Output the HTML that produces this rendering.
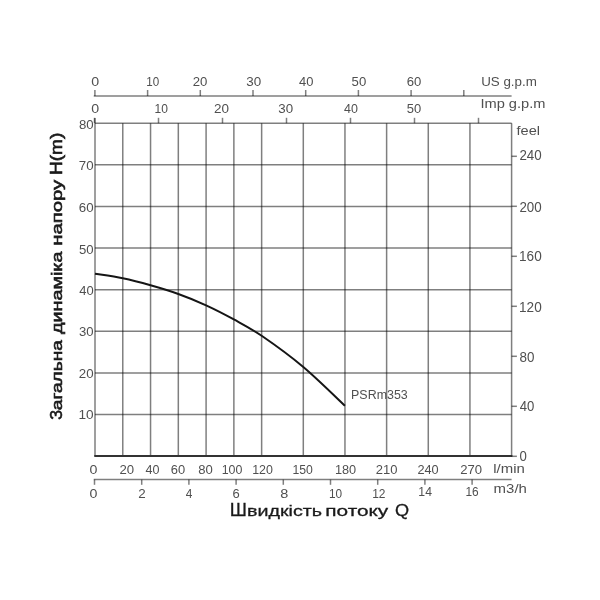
<!DOCTYPE html>
<html><head><meta charset="utf-8"><style>
html,body{margin:0;padding:0;background:#fff;width:600px;height:600px;overflow:hidden}
svg{display:block;will-change:transform}
text{font-family:"Liberation Sans",sans-serif}
</style></head><body>
<svg width="600" height="600" viewBox="0 0 600 600">
<rect width="600" height="600" fill="#fff"/>
<line x1="95.00" y1="123.20" x2="95.00" y2="456.10" stroke="#000" stroke-opacity="0.5" stroke-width="1.5"/>
<line x1="122.77" y1="123.20" x2="122.77" y2="456.10" stroke="#000" stroke-opacity="0.5" stroke-width="1.5"/>
<line x1="150.55" y1="123.20" x2="150.55" y2="456.10" stroke="#000" stroke-opacity="0.5" stroke-width="1.5"/>
<line x1="178.32" y1="123.20" x2="178.32" y2="456.10" stroke="#000" stroke-opacity="0.5" stroke-width="1.5"/>
<line x1="206.09" y1="123.20" x2="206.09" y2="456.10" stroke="#000" stroke-opacity="0.5" stroke-width="1.5"/>
<line x1="233.87" y1="123.20" x2="233.87" y2="456.10" stroke="#000" stroke-opacity="0.5" stroke-width="1.5"/>
<line x1="261.64" y1="123.20" x2="261.64" y2="456.10" stroke="#000" stroke-opacity="0.5" stroke-width="1.5"/>
<line x1="303.30" y1="123.20" x2="303.30" y2="456.10" stroke="#000" stroke-opacity="0.5" stroke-width="1.5"/>
<line x1="344.96" y1="123.20" x2="344.96" y2="456.10" stroke="#000" stroke-opacity="0.5" stroke-width="1.5"/>
<line x1="386.62" y1="123.20" x2="386.62" y2="456.10" stroke="#000" stroke-opacity="0.5" stroke-width="1.5"/>
<line x1="428.28" y1="123.20" x2="428.28" y2="456.10" stroke="#000" stroke-opacity="0.5" stroke-width="1.5"/>
<line x1="469.94" y1="123.20" x2="469.94" y2="456.10" stroke="#000" stroke-opacity="0.5" stroke-width="1.5"/>
<line x1="511.60" y1="123.20" x2="511.60" y2="456.10" stroke="#000" stroke-opacity="0.5" stroke-width="1.5"/>
<line x1="95.00" y1="414.49" x2="511.60" y2="414.49" stroke="#000" stroke-opacity="0.5" stroke-width="1.5"/>
<line x1="95.00" y1="372.88" x2="511.60" y2="372.88" stroke="#000" stroke-opacity="0.5" stroke-width="1.5"/>
<line x1="95.00" y1="331.26" x2="511.60" y2="331.26" stroke="#000" stroke-opacity="0.5" stroke-width="1.5"/>
<line x1="95.00" y1="289.65" x2="511.60" y2="289.65" stroke="#000" stroke-opacity="0.5" stroke-width="1.5"/>
<line x1="95.00" y1="248.04" x2="511.60" y2="248.04" stroke="#000" stroke-opacity="0.5" stroke-width="1.5"/>
<line x1="95.00" y1="206.42" x2="511.60" y2="206.42" stroke="#000" stroke-opacity="0.5" stroke-width="1.5"/>
<line x1="95.00" y1="164.81" x2="511.60" y2="164.81" stroke="#000" stroke-opacity="0.5" stroke-width="1.5"/>
<line x1="95.00" y1="123.20" x2="511.60" y2="123.20" stroke="#000" stroke-opacity="0.5" stroke-width="1.5"/>
<line x1="95.00" y1="118.00" x2="95.00" y2="123.20" stroke="#000" stroke-opacity="0.5" stroke-width="1.5"/>
<line x1="94.25" y1="456.10" x2="512.35" y2="456.10" stroke="#333" stroke-opacity="1" stroke-width="2.0"/>
<line x1="93.75" y1="96.00" x2="511.60" y2="96.00" stroke="#000" stroke-opacity="0.5" stroke-width="1.5"/>
<line x1="94.90" y1="90.00" x2="94.90" y2="96.00" stroke="#000" stroke-opacity="0.5" stroke-width="1.5"/>
<line x1="147.60" y1="90.00" x2="147.60" y2="96.00" stroke="#000" stroke-opacity="0.5" stroke-width="1.5"/>
<line x1="200.30" y1="90.00" x2="200.30" y2="96.00" stroke="#000" stroke-opacity="0.5" stroke-width="1.5"/>
<line x1="253.00" y1="90.00" x2="253.00" y2="96.00" stroke="#000" stroke-opacity="0.5" stroke-width="1.5"/>
<line x1="305.70" y1="90.00" x2="305.70" y2="96.00" stroke="#000" stroke-opacity="0.5" stroke-width="1.5"/>
<line x1="358.40" y1="90.00" x2="358.40" y2="96.00" stroke="#000" stroke-opacity="0.5" stroke-width="1.5"/>
<line x1="411.10" y1="90.00" x2="411.10" y2="96.00" stroke="#000" stroke-opacity="0.5" stroke-width="1.5"/>
<line x1="463.80" y1="90.00" x2="463.80" y2="96.00" stroke="#000" stroke-opacity="0.5" stroke-width="1.5"/>
<text x="91.24" y="86.47" font-size="13.28" font-weight="normal" fill="#505050" textLength="7.91" lengthAdjust="spacingAndGlyphs" >0</text>
<text x="146.21" y="86.47" font-size="13.28" font-weight="normal" fill="#505050" textLength="12.94" lengthAdjust="spacingAndGlyphs" >10</text>
<text x="192.74" y="86.47" font-size="13.28" font-weight="normal" fill="#505050" textLength="14.68" lengthAdjust="spacingAndGlyphs" >20</text>
<text x="246.29" y="86.47" font-size="13.28" font-weight="normal" fill="#505050" textLength="14.94" lengthAdjust="spacingAndGlyphs" >30</text>
<text x="299.00" y="86.47" font-size="13.28" font-weight="normal" fill="#505050" textLength="14.40" lengthAdjust="spacingAndGlyphs" >40</text>
<text x="351.57" y="86.47" font-size="13.28" font-weight="normal" fill="#505050" textLength="14.64" lengthAdjust="spacingAndGlyphs" >50</text>
<text x="406.63" y="86.47" font-size="13.28" font-weight="normal" fill="#505050" textLength="14.58" lengthAdjust="spacingAndGlyphs" >60</text>
<text x="481.17" y="85.79" font-size="12.59" font-weight="normal" fill="#505050" textLength="55.71" lengthAdjust="spacingAndGlyphs" >US g.p.m</text>
<line x1="94.50" y1="117.80" x2="94.50" y2="123.20" stroke="#000" stroke-opacity="0.5" stroke-width="1.5"/>
<line x1="158.50" y1="117.80" x2="158.50" y2="123.20" stroke="#000" stroke-opacity="0.5" stroke-width="1.5"/>
<line x1="222.50" y1="117.80" x2="222.50" y2="123.20" stroke="#000" stroke-opacity="0.5" stroke-width="1.5"/>
<line x1="286.50" y1="117.80" x2="286.50" y2="123.20" stroke="#000" stroke-opacity="0.5" stroke-width="1.5"/>
<line x1="350.50" y1="117.80" x2="350.50" y2="123.20" stroke="#000" stroke-opacity="0.5" stroke-width="1.5"/>
<line x1="414.50" y1="117.80" x2="414.50" y2="123.20" stroke="#000" stroke-opacity="0.5" stroke-width="1.5"/>
<line x1="478.50" y1="117.80" x2="478.50" y2="123.20" stroke="#000" stroke-opacity="0.5" stroke-width="1.5"/>
<text x="91.24" y="113.47" font-size="13.28" font-weight="normal" fill="#505050" textLength="7.91" lengthAdjust="spacingAndGlyphs" >0</text>
<text x="154.48" y="113.47" font-size="13.28" font-weight="normal" fill="#505050" textLength="13.39" lengthAdjust="spacingAndGlyphs" >10</text>
<text x="214.12" y="113.47" font-size="13.28" font-weight="normal" fill="#505050" textLength="15.01" lengthAdjust="spacingAndGlyphs" >20</text>
<text x="278.39" y="113.47" font-size="13.28" font-weight="normal" fill="#505050" textLength="14.83" lengthAdjust="spacingAndGlyphs" >30</text>
<text x="344.01" y="113.47" font-size="13.28" font-weight="normal" fill="#505050" textLength="13.87" lengthAdjust="spacingAndGlyphs" >40</text>
<text x="406.78" y="113.47" font-size="13.28" font-weight="normal" fill="#505050" textLength="14.43" lengthAdjust="spacingAndGlyphs" >50</text>
<text x="480.45" y="108.46" font-size="12.73" font-weight="normal" fill="#505050" textLength="65.01" lengthAdjust="spacingAndGlyphs" >Imp g.p.m</text>
<text x="78.46" y="419.26" font-size="13.28" font-weight="normal" fill="#505050" textLength="15.17" lengthAdjust="spacingAndGlyphs" >10</text>
<text x="78.83" y="377.85" font-size="13.28" font-weight="normal" fill="#505050" textLength="14.79" lengthAdjust="spacingAndGlyphs" >20</text>
<text x="79.00" y="336.03" font-size="13.28" font-weight="normal" fill="#505050" textLength="14.61" lengthAdjust="spacingAndGlyphs" >30</text>
<text x="79.20" y="295.22" font-size="13.28" font-weight="normal" fill="#505050" textLength="14.40" lengthAdjust="spacingAndGlyphs" >40</text>
<text x="78.97" y="253.61" font-size="13.28" font-weight="normal" fill="#505050" textLength="14.64" lengthAdjust="spacingAndGlyphs" >50</text>
<text x="78.82" y="212.00" font-size="13.28" font-weight="normal" fill="#505050" textLength="14.80" lengthAdjust="spacingAndGlyphs" >60</text>
<text x="78.82" y="170.38" font-size="13.28" font-weight="normal" fill="#505050" textLength="14.80" lengthAdjust="spacingAndGlyphs" >70</text>
<text x="78.93" y="128.77" font-size="13.28" font-weight="normal" fill="#505050" textLength="14.69" lengthAdjust="spacingAndGlyphs" >80</text>
<line x1="511.60" y1="456.30" x2="516.90" y2="456.30" stroke="#000" stroke-opacity="0.5" stroke-width="1.5"/>
<text x="519.59" y="460.96" font-size="14.41" font-weight="normal" fill="#505050" textLength="7.33" lengthAdjust="spacingAndGlyphs" >0</text>
<line x1="511.60" y1="406.30" x2="516.90" y2="406.30" stroke="#000" stroke-opacity="0.5" stroke-width="1.5"/>
<text x="519.80" y="411.06" font-size="14.41" font-weight="normal" fill="#505050" textLength="14.61" lengthAdjust="spacingAndGlyphs" >40</text>
<line x1="511.60" y1="356.30" x2="516.90" y2="356.30" stroke="#000" stroke-opacity="0.5" stroke-width="1.5"/>
<text x="519.52" y="361.76" font-size="14.41" font-weight="normal" fill="#505050" textLength="14.91" lengthAdjust="spacingAndGlyphs" >80</text>
<line x1="511.60" y1="306.30" x2="516.90" y2="306.30" stroke="#000" stroke-opacity="0.5" stroke-width="1.5"/>
<text x="519.07" y="311.76" font-size="14.41" font-weight="normal" fill="#505050" textLength="22.67" lengthAdjust="spacingAndGlyphs" >120</text>
<line x1="511.60" y1="256.30" x2="516.90" y2="256.30" stroke="#000" stroke-opacity="0.5" stroke-width="1.5"/>
<text x="519.07" y="261.16" font-size="14.41" font-weight="normal" fill="#505050" textLength="22.67" lengthAdjust="spacingAndGlyphs" >160</text>
<line x1="511.60" y1="206.30" x2="516.90" y2="206.30" stroke="#000" stroke-opacity="0.5" stroke-width="1.5"/>
<text x="519.43" y="211.76" font-size="14.41" font-weight="normal" fill="#505050" textLength="22.29" lengthAdjust="spacingAndGlyphs" >200</text>
<line x1="511.60" y1="156.30" x2="516.90" y2="156.30" stroke="#000" stroke-opacity="0.5" stroke-width="1.5"/>
<text x="519.43" y="160.46" font-size="14.41" font-weight="normal" fill="#505050" textLength="22.29" lengthAdjust="spacingAndGlyphs" >240</text>
<text x="516.59" y="134.57" font-size="13.07" font-weight="normal" fill="#505050" textLength="23.48" lengthAdjust="spacingAndGlyphs" >feel</text>
<text x="89.54" y="473.57" font-size="12.85" font-weight="normal" fill="#505050" textLength="7.91" lengthAdjust="spacingAndGlyphs" >0</text>
<text x="119.44" y="473.57" font-size="12.85" font-weight="normal" fill="#505050" textLength="14.68" lengthAdjust="spacingAndGlyphs" >20</text>
<text x="145.61" y="473.57" font-size="12.85" font-weight="normal" fill="#505050" textLength="13.98" lengthAdjust="spacingAndGlyphs" >40</text>
<text x="170.74" y="473.57" font-size="12.85" font-weight="normal" fill="#505050" textLength="14.36" lengthAdjust="spacingAndGlyphs" >60</text>
<text x="198.33" y="473.57" font-size="12.85" font-weight="normal" fill="#505050" textLength="14.58" lengthAdjust="spacingAndGlyphs" >80</text>
<text x="221.65" y="473.57" font-size="12.85" font-weight="normal" fill="#505050" textLength="20.73" lengthAdjust="spacingAndGlyphs" >100</text>
<text x="252.15" y="473.57" font-size="12.85" font-weight="normal" fill="#505050" textLength="20.73" lengthAdjust="spacingAndGlyphs" >120</text>
<text x="292.47" y="473.57" font-size="12.85" font-weight="normal" fill="#505050" textLength="20.41" lengthAdjust="spacingAndGlyphs" >150</text>
<text x="334.93" y="473.57" font-size="12.85" font-weight="normal" fill="#505050" textLength="21.27" lengthAdjust="spacingAndGlyphs" >180</text>
<text x="375.75" y="473.57" font-size="12.85" font-weight="normal" fill="#505050" textLength="21.66" lengthAdjust="spacingAndGlyphs" >210</text>
<text x="417.46" y="473.57" font-size="12.85" font-weight="normal" fill="#505050" textLength="21.24" lengthAdjust="spacingAndGlyphs" >240</text>
<text x="460.24" y="473.57" font-size="12.85" font-weight="normal" fill="#505050" textLength="21.87" lengthAdjust="spacingAndGlyphs" >270</text>
<text x="493.29" y="473.38" font-size="12.80" font-weight="normal" fill="#505050" textLength="31.58" lengthAdjust="spacingAndGlyphs" >l/min</text>
<line x1="93.75" y1="479.60" x2="511.60" y2="479.60" stroke="#000" stroke-opacity="0.5" stroke-width="1.5"/>
<line x1="94.50" y1="479.60" x2="94.50" y2="484.80" stroke="#000" stroke-opacity="0.5" stroke-width="1.5"/>
<text x="89.54" y="498.07" font-size="13.28" font-weight="normal" fill="#505050" textLength="7.91" lengthAdjust="spacingAndGlyphs" >0</text>
<line x1="141.70" y1="479.60" x2="141.70" y2="484.80" stroke="#000" stroke-opacity="0.5" stroke-width="1.5"/>
<text x="138.13" y="498.20" font-size="13.46" font-weight="normal" fill="#505050" textLength="7.45" lengthAdjust="spacingAndGlyphs" >2</text>
<line x1="188.90" y1="479.60" x2="188.90" y2="484.80" stroke="#000" stroke-opacity="0.5" stroke-width="1.5"/>
<text x="185.63" y="497.80" font-size="13.66" font-weight="normal" fill="#505050" textLength="6.62" lengthAdjust="spacingAndGlyphs" >4</text>
<line x1="236.10" y1="479.60" x2="236.10" y2="484.80" stroke="#000" stroke-opacity="0.5" stroke-width="1.5"/>
<text x="232.44" y="498.07" font-size="13.28" font-weight="normal" fill="#505050" textLength="7.23" lengthAdjust="spacingAndGlyphs" >6</text>
<line x1="283.30" y1="479.60" x2="283.30" y2="484.80" stroke="#000" stroke-opacity="0.5" stroke-width="1.5"/>
<text x="280.27" y="497.57" font-size="13.28" font-weight="normal" fill="#505050" textLength="8.06" lengthAdjust="spacingAndGlyphs" >8</text>
<line x1="330.50" y1="479.60" x2="330.50" y2="484.80" stroke="#000" stroke-opacity="0.5" stroke-width="1.5"/>
<text x="328.90" y="497.57" font-size="13.28" font-weight="normal" fill="#505050" textLength="13.16" lengthAdjust="spacingAndGlyphs" >10</text>
<line x1="377.70" y1="479.60" x2="377.70" y2="484.80" stroke="#000" stroke-opacity="0.5" stroke-width="1.5"/>
<text x="372.19" y="498.20" font-size="13.46" font-weight="normal" fill="#505050" textLength="13.31" lengthAdjust="spacingAndGlyphs" >12</text>
<line x1="424.90" y1="479.60" x2="424.90" y2="484.80" stroke="#000" stroke-opacity="0.5" stroke-width="1.5"/>
<text x="418.37" y="496.30" font-size="13.66" font-weight="normal" fill="#505050" textLength="13.59" lengthAdjust="spacingAndGlyphs" >14</text>
<line x1="472.10" y1="479.60" x2="472.10" y2="484.80" stroke="#000" stroke-opacity="0.5" stroke-width="1.5"/>
<text x="465.49" y="496.17" font-size="13.28" font-weight="normal" fill="#505050" textLength="13.23" lengthAdjust="spacingAndGlyphs" >16</text>
<text x="493.61" y="492.58" font-size="12.53" font-weight="normal" fill="#505050" textLength="33.27" lengthAdjust="spacingAndGlyphs" >m3/h</text>
<path d="M95.00,273.70 C99.63,274.47 113.52,276.37 122.77,278.30 C132.03,280.23 141.29,282.68 150.55,285.30 C159.80,287.92 169.06,290.67 178.32,294.00 C187.58,297.33 196.84,301.07 206.09,305.30 C215.35,309.53 224.61,314.32 233.87,319.40 C243.12,324.48 250.07,327.87 261.64,335.80 C273.21,343.73 289.41,355.33 303.30,367.00 C317.19,378.67 338.02,399.33 344.96,405.80" fill="none" stroke="#151515" stroke-width="2.0"/>
<text x="351.08" y="399.08" font-size="12.71" font-weight="normal" fill="#505050" textLength="56.67" lengthAdjust="spacingAndGlyphs" >PSRm353</text>
<text x="229.81" y="516.40" font-size="17.60" font-weight="normal" fill="#1a1a1a" stroke="#1a1a1a" stroke-width="0.3" textLength="17.17" lengthAdjust="spacingAndGlyphs">Ш</text>
<text x="247.09" y="516.40" font-size="15.10" font-weight="normal" fill="#1a1a1a" stroke="#1a1a1a" stroke-width="0.3" textLength="74.97" lengthAdjust="spacingAndGlyphs">видкість</text>
<text x="325.32" y="516.40" font-size="15.10" font-weight="normal" fill="#1a1a1a" stroke="#1a1a1a" stroke-width="0.3" textLength="62.97" lengthAdjust="spacingAndGlyphs">потоку</text>
<text x="394.99" y="516.40" font-size="16.60" font-weight="normal" fill="#1a1a1a" stroke="#1a1a1a" stroke-width="0.3" textLength="14.13" lengthAdjust="spacingAndGlyphs">Q</text>
<text transform="translate(62.00,419.63) rotate(-90)" x="0" y="0" font-size="16.60" font-weight="normal" fill="#1a1a1a" stroke="#1a1a1a" stroke-width="0.6" textLength="9.84" lengthAdjust="spacingAndGlyphs">З</text>
<text transform="translate(62.00,410.21) rotate(-90)" x="0" y="0" font-size="15.30" font-weight="normal" fill="#1a1a1a" stroke="#1a1a1a" stroke-width="0.6" textLength="70.01" lengthAdjust="spacingAndGlyphs">агальна</text>
<text transform="translate(62.00,333.99) rotate(-90)" x="0" y="0" font-size="15.30" font-weight="normal" fill="#1a1a1a" stroke="#1a1a1a" stroke-width="0.6" textLength="82.39" lengthAdjust="spacingAndGlyphs">динаміка</text>
<text transform="translate(62.00,245.80) rotate(-90)" x="0" y="0" font-size="15.30" font-weight="normal" fill="#1a1a1a" stroke="#1a1a1a" stroke-width="0.6" textLength="65.94" lengthAdjust="spacingAndGlyphs">напору</text>
<text transform="translate(62.00,174.96) rotate(-90)" x="0" y="0" font-size="16.60" font-weight="normal" fill="#1a1a1a" stroke="#1a1a1a" stroke-width="0.6" textLength="42.24" lengthAdjust="spacingAndGlyphs">H(m)</text>
</svg>
</body></html>
